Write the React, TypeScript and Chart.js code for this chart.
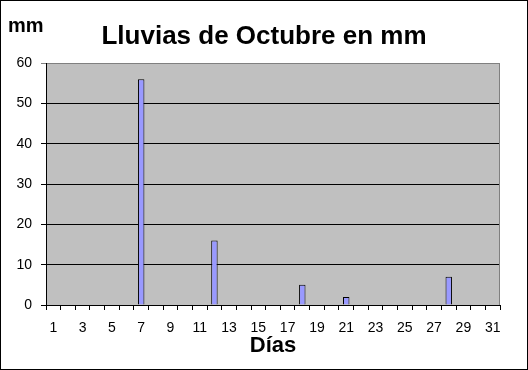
import { useEffect, useRef } from "react";
import { Chart, registerables } from "chart.js";

Chart.register(...registerables);

// Days of October
const days = [
  "1", "2", "3", "4", "5", "6", "7", "8", "9", "10",
  "11", "12", "13", "14", "15", "16", "17", "18", "19", "20",
  "21", "22", "23", "24", "25", "26", "27", "28", "29", "30", "31",
];

// Rainfall per day (mm)
const rainfall = [
  0, 0, 0, 0, 0, 0, 56, 0, 0, 0,
  0, 16, 0, 0, 0, 0, 0, 5, 0, 0,
  2, 0, 0, 0, 0, 0, 0, 7, 0, 0, 0,
];

const yMin = 0;
const yMax = 60;
const yStep = 10;

const chartTitle = "Lluvias de Octubre en mm";
const unitLabel = "mm";
const xAxisTitle = "Días";

const FONT = "'Liberation Sans', Arial, sans-serif";

const framePlugin = {
  id: "frame",
  beforeDraw(chart: any) {
    const { ctx, width, height, chartArea } = chart;
    ctx.save();
    ctx.fillStyle = "#ffffff";
    ctx.fillRect(0, 0, width, height);
    ctx.strokeStyle = "#000000";
    ctx.lineWidth = 1;
    ctx.strokeRect(0.5, 0.5, width - 1, height - 1);
    ctx.fillStyle = "#c0c0c0";
    ctx.fillRect(
      chartArea.left,
      chartArea.top,
      chartArea.right - chartArea.left,
      chartArea.bottom - chartArea.top
    );
    ctx.restore();
  },
  beforeDatasetsDraw(chart: any) {
    const { ctx, chartArea } = chart;
    ctx.save();
    ctx.strokeStyle = "#808080";
    ctx.lineWidth = 1;
    ctx.beginPath();
    ctx.moveTo(Math.round(chartArea.right) - 0.5, chartArea.top);
    ctx.lineTo(Math.round(chartArea.right) - 0.5, chartArea.bottom);
    ctx.stroke();
    ctx.restore();
  },
  afterDraw(chart: any) {
    const { ctx, width } = chart;
    ctx.save();
    ctx.fillStyle = "#000000";
    ctx.textBaseline = "alphabetic";
    ctx.font = `bold 26px ${FONT}`;
    ctx.textAlign = "center";
    ctx.fillText(chartTitle, width / 2, 44);
    ctx.font = `bold 20px ${FONT}`;
    ctx.textAlign = "left";
    ctx.fillText(unitLabel, 8, 32);
    ctx.restore();
  },
};

export default function App() {
  const canvasRef = useRef<HTMLCanvasElement | null>(null);

  useEffect(() => {
    document.body.style.margin = "0";
    const canvas = canvasRef.current;
    if (!canvas) return;
    const chart = new Chart(canvas, {
      type: "bar",
      data: {
        labels: days,
        datasets: [
          {
            data: rainfall,
            backgroundColor: "#9999ff",
            borderColor: "#000000",
            borderWidth: 1,
            barPercentage: 0.44,
            categoryPercentage: 1,
          },
        ],
      },
      options: {
        responsive: false,
        animation: false,
        devicePixelRatio: 1,
        layout: { padding: { left: 0, top: 63, right: 28, bottom: 0 } },
        plugins: {
          legend: { display: false },
          tooltip: { enabled: false },
          title: { display: false },
        },
        scales: {
          x: {
            afterFit(scale: any) {
              scale.height = 65;
            },
            grid: {
              display: true,
              drawOnChartArea: false,
              drawTicks: true,
              tickLength: 5,
              color: "#000000",
              offset: true,
            },
            border: { display: true, color: "#000000", width: 1 },
            ticks: {
              autoSkip: false,
              maxRotation: 0,
              minRotation: 0,
              padding: 10,
              color: "#000000",
              font: { family: FONT, size: 14 },
              callback: (_v: any, i: number) => (i % 2 === 0 ? days[i] : ""),
            },
            title: {
              display: true,
              text: xAxisTitle,
              color: "#000000",
              font: { family: FONT, size: 22, weight: "bold" },
              padding: { top: 0, bottom: 11 },
            },
          },
          y: {
            min: yMin,
            max: yMax,
            afterFit(scale: any) {
              scale.width = 46;
            },
            grid: {
              drawTicks: true,
              tickLength: 5,
              color: (c: any) => (c.tick && c.tick.value === yMax ? "#808080" : "#000000"),
              lineWidth: 1,
            },
            border: { display: true, color: "#000000", width: 1 },
            ticks: {
              stepSize: yStep,
              padding: 9,
              color: "#000000",
              font: { family: FONT, size: 14 },
            },
          },
        },
      },
      plugins: [framePlugin],
    });
    return () => chart.destroy();
  }, []);

  return (
    <canvas
      ref={canvasRef}
      width={528}
      height={370}
      style={{ display: "block", width: 528, height: 370 }}
    />
  );
}
